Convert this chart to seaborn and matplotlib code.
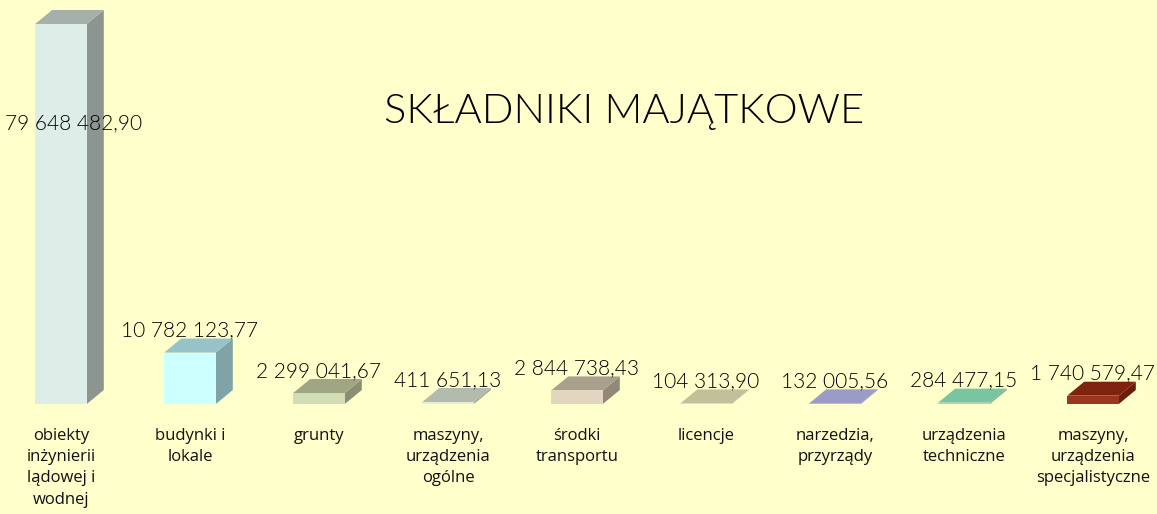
import matplotlib
matplotlib.use("Agg")
import matplotlib.pyplot as plt
from matplotlib.patches import Polygon
import seaborn as sns
import pandas as pd

# Asset categories and their book values (PLN)
categories = [
    "obiekty\ninżynierii\nlądowej i\nwodnej",
    "budynki i\nlokale",
    "grunty",
    "maszyny,\nurządzenia\nogólne",
    "środki\ntransportu",
    "licencje",
    "narzedzia,\nprzyrządy",
    "urządzenia\ntechniczne",
    "maszyny,\nurządzenia\nspecjalistyczne",
]
values = [
    79648482.90,
    10782123.77,
    2299041.67,
    411651.13,
    2844738.43,
    104313.90,
    132005.56,
    284477.15,
    1740579.47,
]

# Face colours for the pseudo-3D bars: front, top, side
front_colors = ["#DDEDE7", "#CCFFFF", "#D3DDB5", "#E6EDDC", "#E3D6C0",
                "#D7D5B5", "#B8B8E0", "#96DDBC", "#9A3520"]
top_colors = ["#A5B0AA", "#97C3C8", "#A0A684", "#B3BBAD", "#A99F8D",
              "#C0C09B", "#9B9BC8", "#79C4A1", "#7E2310"]
side_colors = ["#8D9590", "#7FA3A6", "#898F70", "#9DA398", "#918877",
               "#A8A885", "#8484B0", "#64A888", "#6A1D0D"]

BG = "#FFFFCC"
W, H, DPI = 1157, 514, 100
DEPTH_X, DEPTH_Y = 17, 14  # pixel depth of the extruded faces


def pl_format(v):
    s = f"{v:,.2f}"
    return s.replace(",", " ").replace(".", ",")


sns.set_theme(style="white")
plt.rcParams["font.family"] = ["Lato", "DejaVu Sans"]

df = pd.DataFrame({"cat": categories, "val": values})

fig = plt.figure(figsize=(W / DPI, H / DPI), dpi=DPI, facecolor=BG)
ax = fig.add_axes([0, 110 / H, 1, (H - 110) / H])
ax.set_facecolor(BG)

sns.barplot(data=df, x="cat", y="val", hue="cat", palette=front_colors,
            width=0.4, linewidth=0, saturation=1, legend=False, ax=ax,
            zorder=3)

ax.set_xlim(-61 / 129, (W - 61) / 129)
ax.set_ylim(0, values[0] * (H - 110) / 380)
for s in ax.spines.values():
    s.set_visible(False)
ax.set_yticks([])
ax.set_xlabel("")
ax.set_ylabel("")
ax.tick_params(axis="x", length=0, pad=17)
ax.set_xticks(range(len(categories)))
ax.set_xticklabels(categories, fontsize=12, linespacing=1.45,
                   family=["Open Sans", "DejaVu Sans"], color="#111111")

# Depth expressed in data units
inv = ax.transData.inverted()
p0 = inv.transform((0, 0))
p1 = inv.transform((DEPTH_X, DEPTH_Y))
ddx, ddy = p1[0] - p0[0], p1[1] - p0[1]

for i, bar in enumerate(ax.patches[:len(values)]):
    x0 = bar.get_x()
    x1 = x0 + bar.get_width()
    y0 = bar.get_y()
    y1 = y0 + bar.get_height()
    top = Polygon([(x0, y1), (x1, y1), (x1 + ddx, y1 + ddy), (x0 + ddx, y1 + ddy)],
                  closed=True, facecolor=top_colors[i], edgecolor="none", zorder=2)
    side = Polygon([(x1, y0), (x1, y1), (x1 + ddx, y1 + ddy), (x1 + ddx, y0 + ddy)],
                   closed=True, facecolor=side_colors[i], edgecolor="none", zorder=2)
    ax.add_patch(side)
    ax.add_patch(top)

LABEL_WEIGHT = 300

# Value labels
for i, v in enumerate(values):
    if i == 0:
        ax.annotate(pl_format(v), (i, v * 0.74), xytext=(9, 0),
                    textcoords="offset points", ha="center", va="center",
                    fontsize=15, fontweight=LABEL_WEIGHT, color="#000000", zorder=5)
    else:
        ax.annotate(pl_format(v), (i, v), xytext=(0, 16),
                    textcoords="offset points", ha="center", va="center",
                    fontsize=15, fontweight=LABEL_WEIGHT, color="#000000", zorder=5)

fig.text(624 / W, 1 - 111 / H, "SKŁADNIKI MAJĄTKOWE", ha="center", va="center",
         fontsize=30, fontweight=LABEL_WEIGHT, color="#000000")

fig.savefig("out.png", dpi=DPI, facecolor=BG)
